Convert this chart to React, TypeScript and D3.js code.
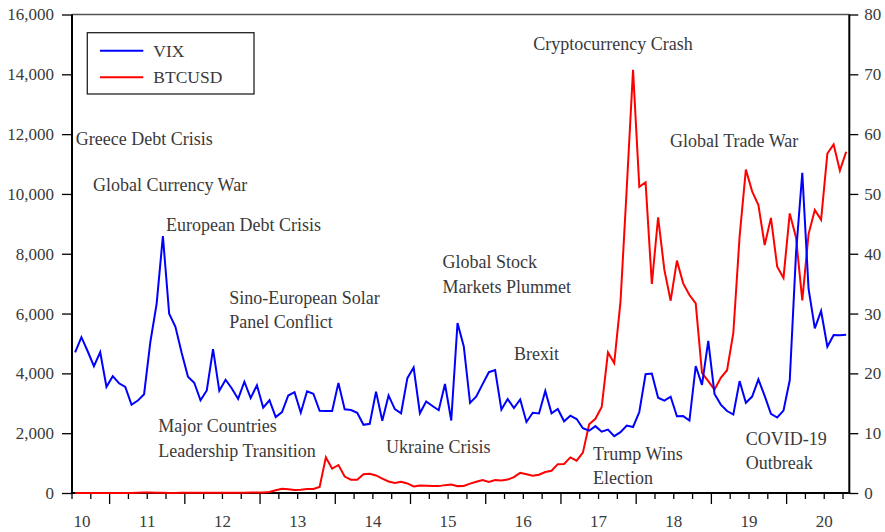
import { useEffect, useRef } from "react";
import * as d3 from "d3";

// monthly closes, Jul 2010 .. Oct 2020 (last month partial)
const START_MONTH = 6; // July, 0-based

const vix = [
  23.5, 26.05, 23.7, 21.2, 23.54, 17.75,
  19.53, 18.35, 17.74, 14.75, 15.45, 16.52, 25.25, 31.62, 42.96, 29.96, 27.8, 23.4,
  19.44, 18.43, 15.5, 17.15, 24.06, 17.08, 18.93, 17.47, 15.73, 18.6, 15.87, 18.02,
  14.28, 15.51, 12.7, 13.52, 16.3, 16.86, 13.45, 17.01, 16.6, 13.75, 13.7, 13.72,
  18.41, 14.0, 13.88, 13.41, 11.4, 11.57, 16.95, 12.09, 16.31, 14.03, 13.33, 19.2,
  20.97, 13.34, 15.29, 14.55, 13.84, 18.23, 12.12, 28.43, 24.5, 15.07, 16.13, 18.21,
  20.2, 20.55, 13.95, 15.7, 14.19, 15.63, 11.87, 13.42, 13.29, 17.06, 13.33, 14.04,
  11.99, 12.92, 12.37, 10.82, 10.41, 11.18, 10.26, 10.59, 9.51, 10.18, 11.28, 11.04,
  13.54, 19.85, 19.97, 15.93, 15.43, 16.09, 12.83, 12.86, 12.12, 21.23, 18.07, 25.42,
  16.57, 14.78, 13.71, 13.12, 18.71, 15.08, 16.12, 18.98, 16.24, 13.22, 12.62, 13.78,
  18.84, 40.11, 53.54, 34.15, 27.51, 30.43, 24.46, 26.41, 26.37, 26.45,
];

const btc = [
  0.07, 0.06, 0.06, 0.19, 0.21, 0.3,
  0.52, 0.86, 0.78, 3.5, 8.7, 16.1, 13.4, 8.2, 5.1, 3.2, 3.0, 4.7,
  5.5, 4.9, 4.9, 5.0, 5.2, 6.7, 9.4, 10.2, 12.4, 11.2, 12.6, 13.5,
  20.4, 33.4, 93, 139, 129, 97, 106, 135, 133, 204, 1190, 815,
  936, 550, 445, 445, 630, 640, 586, 480, 387, 338, 378, 320,
  217, 254, 244, 236, 230, 263, 284, 230, 236, 314, 378, 430,
  369, 437, 416, 448, 531, 673, 624, 575, 609, 700, 742, 964,
  970, 1190, 1080, 1350, 2300, 2480, 2875, 4700, 4340, 6400, 10200, 14150,
  10240, 10390, 6990, 9220, 7460, 6430, 7770, 7010, 6620, 6340, 4017, 3742,
  3457, 3854, 4105, 5350, 8574, 10817, 10085, 9630, 8293, 9199, 7569, 7193,
  9350, 8543, 6438, 8658, 9461, 9137, 11351, 11655, 10779, 11410,
];

const leftTicks = [0, 2000, 4000, 6000, 8000, 10000, 12000, 14000, 16000];
const rightTicks = [0, 10, 20, 30, 40, 50, 60, 70, 80];
const yearLabels = ["10", "11", "12", "13", "14", "15", "16", "17", "18", "19", "20"];

// event labels anchored in data space: month index, BTC axis value
const events = [
  { lines: ["Greece Debt Crisis"], month: 0.1, value: 11840 },
  { lines: ["Global Currency War"], month: 2.85, value: 10300 },
  { lines: ["European Debt Crisis"], month: 14.5, value: 8960 },
  { lines: ["Sino-European Solar", "Panel Conflict"], month: 24.6, value: 6540 },
  { lines: ["Major Countries", "Leadership Transition"], month: 13.27, value: 2240 },
  { lines: ["Ukraine Crisis"], month: 49.6, value: 1548 },
  { lines: ["Global Stock", "Markets Plummet"], month: 58.6, value: 7734 },
  { lines: ["Brexit"], month: 70.0, value: 4648 },
  { lines: ["Trump Wins", "Election"], month: 82.6, value: 1327 },
  { lines: ["COVID-19", "Outbreak"], month: 107.0, value: 1829 },
  { lines: ["Cryptocurrency Crash"], month: 73.1, value: 15014 },
  { lines: ["Global Trade War"], month: 94.9, value: 11770 },
];

const W = 885;
const H = 532;
const FONT = "'Liberation Serif', 'Times New Roman', serif";
const TEXT = "#3a3a3a";

function App() {
  const svgRef = useRef<SVGSVGElement>(null);

  useEffect(() => {
    const svg = svgRef.current;
    if (!svg) return;
    d3.select(svg).selectAll("*").remove();
    const root = d3.select(svg);

    const n = vix.length;
    const x = d3.scaleLinear().domain([-0.5, n - 0.5]).range([72, 849.3]);
    const yL = d3.scaleLinear().domain([0, 16000]).range([493, 14.5]);
    const yR = d3.scaleLinear().domain([0, 80]).range([493, 14.5]);

    const [x0, x1] = x.range();
    const [yb, yt] = yL.range();

    // top frame line
    root.append("line")
      .attr("x1", x0).attr("x2", x1).attr("y1", yt).attr("y2", yt)
      .attr("stroke", "#555").attr("stroke-width", 1.3);

    // left axis
    root.append("g")
      .attr("transform", `translate(${x0},0)`)
      .call(d3.axisLeft(yL).tickValues(leftTicks).tickSize(10).tickPadding(8).tickFormat(d3.format(",")))
      .call((g) => g.select(".domain").attr("stroke", "#000").attr("stroke-width", 2).attr("d", `M0,${yt}V${yb}`))
      .call((g) => g.selectAll(".tick line").attr("stroke", "#000").attr("stroke-width", 1.3))
      .call((g) => g.selectAll(".tick text").attr("fill", TEXT).attr("font-size", 17).attr("font-family", FONT));

    // right axis
    root.append("g")
      .attr("transform", `translate(${x1},0)`)
      .call(d3.axisRight(yR).tickValues(rightTicks).tickSize(9).tickPadding(6))
      .call((g) => g.select(".domain").attr("stroke", "#000").attr("stroke-width", 2).attr("d", `M0,${yt}V${yb}`))
      .call((g) => g.selectAll(".tick line").attr("stroke", "#000").attr("stroke-width", 1.3))
      .call((g) => g.selectAll(".tick text").attr("fill", TEXT).attr("font-size", 17).attr("font-family", FONT));

    // bottom axis: quarter ticks, long ticks at January
    const bottom = root.append("g");
    bottom.append("line")
      .attr("x1", x0 - 1).attr("x2", x1 + 1).attr("y1", yb).attr("y2", yb)
      .attr("stroke", "#000").attr("stroke-width", 2);
    const quarterTicks = d3.range(-0.5, n - 0.5, 3);
    bottom.selectAll("line.q")
      .data(quarterTicks)
      .join("line")
      .attr("class", "q")
      .attr("x1", (d) => x(d)).attr("x2", (d) => x(d))
      .attr("y1", yb)
      .attr("y2", (d) => (((d + 0.5 + START_MONTH) % 12 === 0) ? yb + 11 : yb + 6))
      .attr("stroke", "#000").attr("stroke-width", 1.3);
    // year label sits mid-year (July); first one nudged inside the axis
    bottom.selectAll("text")
      .data(yearLabels)
      .join("text")
      .attr("x", (_, i) => Math.max(x0 + 10, x(i * 12 - START_MONTH + 5.5)))
      .attr("y", 527)
      .attr("text-anchor", "middle")
      .attr("fill", TEXT)
      .attr("font-size", 17)
      .attr("font-family", FONT)
      .text((d) => d);

    // lines
    const line = (arr: number[], y: d3.ScaleLinear<number, number>) =>
      d3.line<number>().x((_, i) => x(i)).y((d) => y(d))(arr);

    root.append("path")
      .attr("d", line(btc, yL))
      .attr("fill", "none").attr("stroke", "#ff0000").attr("stroke-width", 2)
      .attr("stroke-linejoin", "miter");

    root.append("path")
      .attr("d", line(vix, yR))
      .attr("fill", "none").attr("stroke", "#0000ff").attr("stroke-width", 2)
      .attr("stroke-linejoin", "miter");

    // event annotations
    const ev = root.append("g")
      .attr("font-family", FONT).attr("font-size", 18).attr("fill", TEXT);
    events.forEach((e) => {
      e.lines.forEach((t, k) => {
        ev.append("text")
          .attr("x", x(e.month))
          .attr("y", yL(e.value) + k * 24.5)
          .attr("dy", "0.35em")
          .text(t);
      });
    });

    // legend
    const legend = root.append("g");
    legend.append("rect")
      .attr("x", 87.3).attr("y", 32.7).attr("width", 166.7).attr("height", 61.3)
      .attr("fill", "#fff").attr("stroke", "#222").attr("stroke-width", 1.3);
    const items = [
      { name: "VIX", color: "#0000ff" },
      { name: "BTCUSD", color: "#ff0000" },
    ];
    items.forEach((it, k) => {
      const yy = 50.7 + k * 26.6;
      legend.append("line")
        .attr("x1", 100).attr("x2", 143.3).attr("y1", yy).attr("y2", yy)
        .attr("stroke", it.color).attr("stroke-width", 2);
      legend.append("text")
        .attr("x", 153.3).attr("y", yy).attr("dy", "0.35em")
        .attr("font-family", FONT).attr("font-size", 17.5).attr("fill", TEXT)
        .text(it.name);
    });
  }, []);

  return (
    <div style={{ position: "absolute", left: 0, top: 0, width: W, height: H, background: "#fff" }}>
      <svg ref={svgRef} width={W} height={H} style={{ display: "block" }} />
    </div>
  );
}

export default App;
